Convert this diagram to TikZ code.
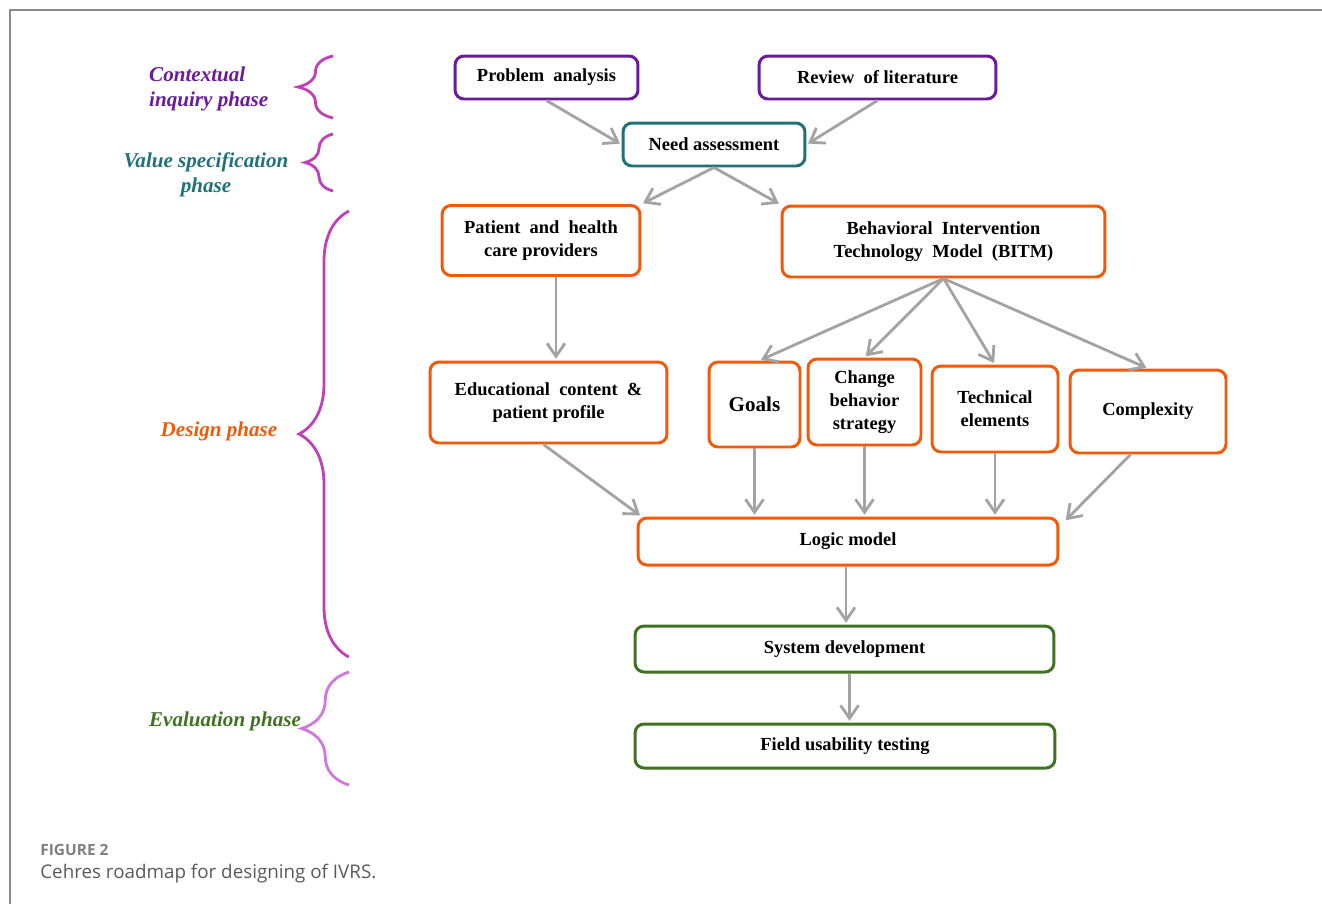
\documentclass[tikz,border=0pt]{standalone}
\usepackage{fontspec}
\setmainfont{Liberation Serif}
\newfontfamily\capfont{Open Sans}
\usetikzlibrary{arrows.meta,calc,decorations.pathreplacing}
\definecolor{cpurple}{HTML}{6A1B9A}
\definecolor{cteal}{HTML}{1E7278}
\definecolor{corange}{HTML}{F25A0A}
\definecolor{cgreen}{HTML}{3F7320}
\definecolor{cbrace}{HTML}{C040B8}
\definecolor{cbracelt}{HTML}{D078DC}
\definecolor{carrow}{HTML}{A3A3A3}
\definecolor{cframe}{HTML}{8A8A8A}
\tikzset{
  box/.style={draw, line width=1.7pt, rounded corners=0.18cm, fill=white, align=center,
    font=\fontsize{10.5}{13}\selectfont\bfseries, inner sep=2pt},
  pbox/.style={box, draw=cpurple},
  tbox/.style={box, draw=cteal},
  obox/.style={box, draw=corange},
  gbox/.style={box, draw=cgreen},
  arr/.style={draw=carrow, line width=1.6pt, -{Straight Barb[length=2.6mm,width=3.6mm]}, shorten >=1pt},
  phase/.style={align=center, font=\fontsize{12}{14}\selectfont\bfseries\itshape},
  curly/.style={draw=cbrace, line width=1.6pt, decorate}
}

\begin{document}
\begin{tikzpicture}[x=0.02cm, y=-0.02cm]
		%%%%% START %%%%%
		\useasboundingbox (0, 0) rectangle (1322, 904);
		\draw[cframe, line width=0.8pt] (1322, 10) -- (10, 10) -- (10, 904);
		
		% contextual inquiry
		\node[pbox, minimum width=3.66cm, minimum height=0.86cm] (pa) at (546.5, 77.5) {Problem~~analysis};
		\node[pbox, minimum width=4.74cm, minimum height=0.86cm] (rl) at (877.5, 77.5) {Review~~of literature};
		
		% value specification
		\node[tbox, minimum width=3.64cm, minimum height=0.86cm] (na) at (714, 144.5) {Need assessment};
		
		% design
		\node[obox, minimum width=3.96cm, minimum height=1.4cm] (pat) at (541, 240.5) {Patient~~and~~health\\care providers};
		\node[obox, minimum width=6.46cm, minimum height=1.42cm] (bitm) at (943.5, 241.5) {Behavioral~~Intervention\\Technology~~Model~~(BITM)};
		\node[obox, minimum width=4.74cm, minimum height=1.62cm] (edu) at (548.5, 402.5) {Educational~~content~~\&\\patient profile};
		\node[obox, minimum width=1.82cm, minimum height=1.7cm, font=\fontsize{12}{14}\selectfont\bfseries] (goals) at (754.5, 404.5) {Goals};
		\node[obox, minimum width=2.26cm, minimum height=1.72cm] (chg) at (864.5, 402) {Change\\behavior\\strategy};
		\node[obox, minimum width=2.52cm, minimum height=1.72cm] (tech) at (995, 409) {Technical\\elements};
		\node[obox, minimum width=3.12cm, minimum height=1.66cm] (cpx) at (1148, 411.5) {Complexity};
		\node[obox, minimum width=8.4cm, minimum height=0.94cm] (lm) at (848, 541.5) {Logic model};
		
		% evaluation
		\node[gbox, minimum width=8.38cm, minimum height=0.92cm] (sd) at (844.5, 649) {System development};
		\node[gbox, minimum width=8.4cm, minimum height=0.88cm] (fut) at (845, 746) {Field usability testing};
		
		% arrows
		\draw[arr] (pa.south) -- (na.west);
		\draw[arr] (rl.south) -- (na.east);
		\draw[arr] (na.south) -- (pat.north east);
		\draw[arr] (na.south) -- (bitm.north west);
		\draw[arr] ([xshift=0.3cm]pat.south) -- ([xshift=0.3cm]pat.south |- edu.north);
		\draw[arr] (bitm.south) -- ([xshift=0.1cm]goals.north);
		\draw[arr] (bitm.south) -- (chg.north);
		\draw[arr] (bitm.south) -- (tech.north);
		\draw[arr] (bitm.south) -- (cpx.north);
		\draw[arr] ([xshift=-0.1cm]edu.south) -- ([xshift=0.1cm]lm.north west);
		\draw[arr] (goals.south) -- (goals.south |- lm.north);
		\draw[arr] (chg.south) -- (chg.south |- lm.north);
		\draw[arr] (tech.south) -- (tech.south |- lm.north);
		\draw[arr] ([xshift=-0.35cm]cpx.south) -- ([xshift=0.1cm, yshift=-0.1cm]lm.north east);
		\draw[arr] ([xshift=-0.04cm]lm.south) -- ([xshift=-0.04cm]lm.south |- sd.north);
		\draw[arr] ([xshift=0.1cm]sd.south) -- ([xshift=0.1cm]sd.south |- fut.north);
		
		% phases
		\node[phase, align=left, anchor=west, text=cpurple] (ctx) at (143, 89) {Contextual\\inquiry phase};
		\node[phase, text=cteal] (vsp) at (206, 175) {Value specification\\phase};
		\node[phase, text=corange] (dsg) at (219, 431) {Design phase};
		\node[phase, text=cgreen] (evl) at (225, 721) {Evaluation phase};
		\draw[curly, decoration={brace, amplitude=0.7cm}] (333, 118) -- (333, 56);
		\draw[curly, decoration={brace, amplitude=0.56cm}] (333, 191) -- (333, 134);
		\draw[curly, decoration={brace, amplitude=1.0cm}] (349, 657) -- (349, 211);
		\draw[curly, draw=cbracelt, decoration={brace, amplitude=0.95cm}] (349, 785) -- (349, 672);
		
		% caption
		\node[anchor=base west, inner sep=0, text=gray, font=\capfont\fontsize{8.8}{11}\selectfont\bfseries] (fig) at (40, 855) {FIGURE 2};
		\node[anchor=base west, inner sep=0, text=black!65, font=\capfont\fontsize{10.7}{13}\selectfont] (cap) at (40, 878) {Cehres roadmap for designing of IVRS.};
		%%%%% END %%%%%
\end{tikzpicture}
\end{document}
